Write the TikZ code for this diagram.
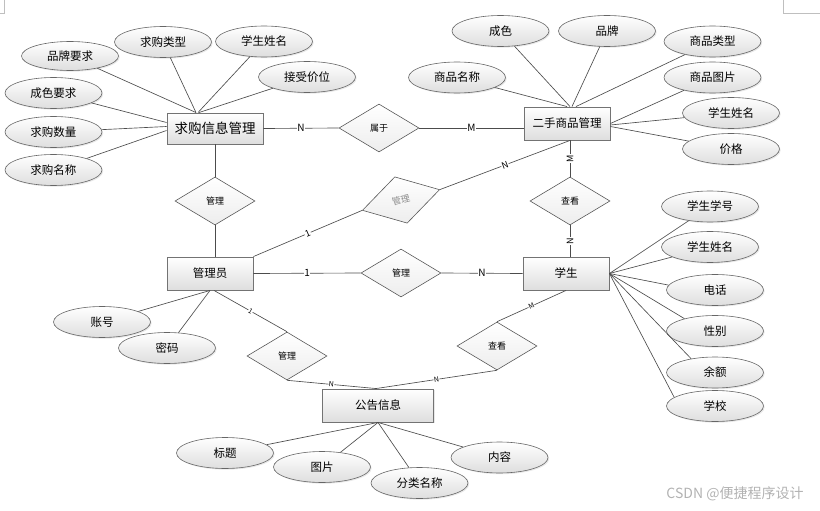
\documentclass[tikz,border=0pt]{standalone}
\usepackage{fontspec}
\setmainfont{Noto Sans CJK SC}
\usetikzlibrary{shapes.geometric,shadows}

\tikzset{
  entity/.style={draw=black!55, line width=0.9pt, top color=white, bottom color=black!13,
    minimum width=86pt, minimum height=33pt, inner sep=0pt, font=\fontsize{11.5}{12}\selectfont,
    drop shadow={opacity=0.18, shadow xshift=1.2pt, shadow yshift=-1.2pt}},
  attr/.style={ellipse, draw=black!60, line width=0.6pt, top color=white, bottom color=black!13,
    minimum width=97pt, minimum height=31pt, inner sep=0pt, font=\fontsize{11.5}{12}\selectfont,
    drop shadow={opacity=0.18, shadow xshift=1.2pt, shadow yshift=-1.2pt}},
  rel/.style={diamond, draw=black!65, line width=0.6pt, top color=white, bottom color=black!7,
    minimum width=80pt, minimum height=48pt, inner sep=0pt, font=\fontsize{9}{9}\selectfont},
  link/.style={draw=black!70, line width=0.65pt},
  card/.style={fill=white, inner sep=0.6pt, font=\fontsize{10}{10}\selectfont},
  cardsm/.style={fill=white, inner sep=0.4pt, font=\fontsize{7}{7}\selectfont}
}

\begin{document}
\begin{tikzpicture}[x=1pt, y=-1pt]
  \useasboundingbox (0,0) rectangle (820,511);

  % 页角标记
  \draw [black!25, line width=0.5pt] (4,0) -- (4,13) -- (0,13);
  \draw [black!25, line width=0.5pt] (783,0) -- (783,13) -- (820,13);

  % 实体
  \node [entity, minimum width=96pt, minimum height=31pt, font=\fontsize{13.5}{14}\selectfont] (qg) at (215,128.5) {求购信息管理};
  \node [entity] (es) at (567,123.5) {二手商品管理};
  \node [entity] (gly) at (210,273.5) {管理员};
  \node [entity] (xs) at (566,273.5) {学生};
  \node [entity, minimum width=111pt] (gg) at (378,405.5) {公告信息};

  % 联系
  \node [rel] (sy) at (379,128) {属于};
  \node [rel] (gl1) at (215,201) {管理};
  \node [rel, rotate=15, text=black!45] (gl0) at (401,200) {管理};
  \node [rel] (ck1) at (570,201) {查看};
  \node [rel] (gl2) at (401,273) {管理};
  \node [rel] (gl3) at (287,356) {管理};
  \node [rel] (ck2) at (497,346) {查看};

  % 求购信息管理的属性
  \node [attr, minimum height=29pt] (pp) at (70,56) {品牌要求};
  \node [attr] (lx) at (163,42) {求购类型};
  \node [attr] (xm1) at (264,41.5) {学生姓名};
  \node [attr] (jw) at (307,77) {接受价位};
  \node [attr] (cs) at (53.5,93) {成色要求};
  \node [attr] (sl) at (53.5,132) {求购数量};
  \node [attr] (mc) at (53.5,170) {求购名称};
  \draw [link] (pp) -- ([xshift=-19pt]qg.north);
  \draw [link] (lx) -- ([xshift=-19pt]qg.north);
  \draw [link] (xm1) -- ([xshift=-17pt]qg.north);
  \draw [link] (jw) -- ([xshift=-16pt]qg.north);
  \draw [link] (cs) -- ([yshift=6pt]qg.west);
  \draw [link] (sl) -- ([yshift=2pt]qg.west);
  \draw [link] (mc) -- ([yshift=-2pt]qg.west);

  % 二手商品管理的属性
  \node [attr] (cs2) at (500.5,31) {成色};
  \node [attr] (pp2) at (607,31) {品牌};
  \node [attr] (lx2) at (712.5,41.5) {商品类型};
  \node [attr] (mc2) at (457,77.5) {商品名称};
  \node [attr] (tp) at (712.5,77.5) {商品图片};
  \node [attr] (xm2) at (731,113) {学生姓名};
  \node [attr] (jg) at (731,149) {价格};
  \draw [link] (mc2) -- (es.north);
  \draw [link] (cs2) -- ([xshift=3pt]es.north);
  \draw [link] (pp2) -- ([xshift=5pt]es.north);
  \draw [link] (lx2) -- ([xshift=9pt]es.north);
  \draw [link] (tp) -- ([yshift=0pt]es.east);
  \draw [link] (xm2) -- ([yshift=-1.5pt]es.east);
  \draw [link] (jg) -- ([yshift=-3pt]es.east);

  % 学生的属性
  \node [attr] (xh) at (710,206.5) {学生学号};
  \node [attr] (xm3) at (710,247) {学生姓名};
  \node [attr] (dh) at (715,290) {电话};
  \node [attr] (xb) at (715,331) {性别};
  \node [attr] (ye) at (715,372.5) {余额};
  \node [attr] (xx) at (715,406) {学校};
  \draw [link] (xh) -- (xs.east);
  \draw [link] (xm3) -- (xs.east);
  \draw [link] (dh.174) -- (xs.east);
  \draw [link] (xb.158) -- (xs.east);
  \draw [link] (ye.150) -- (xs.east);
  \draw [link] (xx.168) -- (xs.east);

  % 管理员的属性
  \node [attr] (zh) at (102,322) {账号};
  \node [attr] (mm) at (167,348) {密码};
  \draw [link] (zh) -- (gly.south);
  \draw [link] (mm) -- (gly.south);

  % 公告信息的属性
  \node [attr] (bt) at (225,453) {标题};
  \node [attr] (tp2) at (322,467) {图片};
  \node [attr] (fl) at (419.5,483) {分类名称};
  \node [attr] (nr) at (499.5,457.5) {内容};
  \draw [link] (bt) -- (gg.south);
  \draw [link] (tp2) -- (gg.south);
  \draw [link] (fl) -- (gg.south);
  \draw [link] (nr) -- (gg.south);

  % 实体与联系的连线
  \draw [link] (qg.east) -- node [card] {N} (sy.west);
  \draw [link] (sy.east) -- node [card] {M} (sy.east -| es.west);
  \draw [link] (qg.south) -- (gl1.north);
  \draw [link] (gl1.south) -- (gl1.south |- gly.north);
  \draw [link] (gly.north east) -- node [card, sloped, font=\fontsize{9}{9}\selectfont] {1} (gl0.west);
  \draw [link] (gl0.east) -- node [card, sloped, font=\fontsize{9}{9}\selectfont] {N} ([xshift=3pt]es.south);
  \draw [link] (ck1.north |- es.south) -- node [card, rotate=90, font=\fontsize{9}{9}\selectfont] {M} (ck1.north);
  \draw [link] (ck1.south) -- node [card, rotate=90, font=\fontsize{9}{9}\selectfont] {N} (ck1.south |- xs.north);
  \draw [link] (gly.east) -- node [card] {1} (gl2.west);
  \draw [link] (gl2.east) -- node [card] {N} (xs.west);
  \draw [link] ([xshift=4pt]gly.south) -- node [cardsm, sloped] {1} (gl3.north);
  \draw [link] (gl3.south) -- node [cardsm, sloped] {N} ([xshift=-2pt]gg.north);
  \draw [link] (xs.south) -- node [cardsm, sloped] {M} (ck2.north);
  \draw [link] (ck2.south) -- node [cardsm, sloped] {N} ([xshift=-2pt]gg.north);

  % 水印
  \node [text=black!30, font=\fontsize{14}{14}\selectfont] (wm) at (735,494) {CSDN @便捷程序设计};

\end{tikzpicture}
\end{document}
